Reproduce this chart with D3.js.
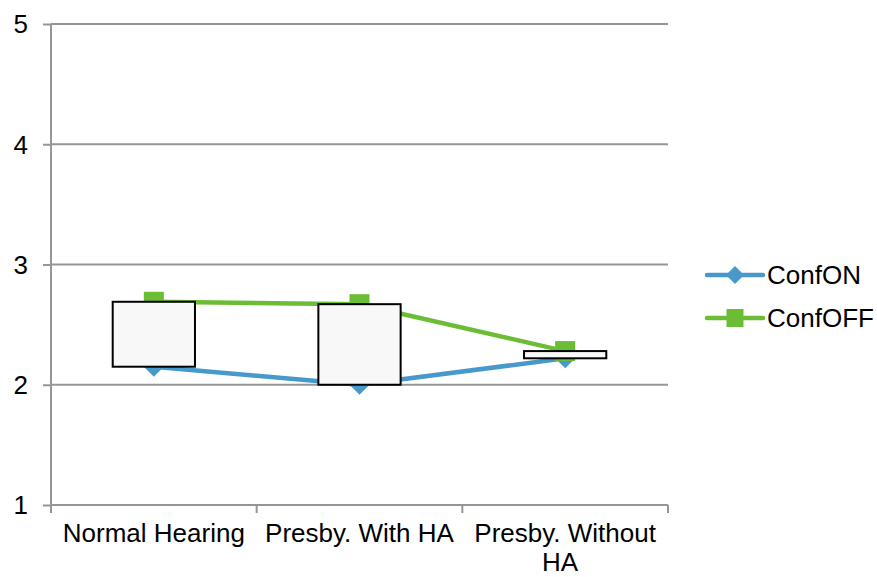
<!DOCTYPE html>
<html>
<head>
<meta charset="utf-8">
<script src="https://cdn.jsdelivr.net/npm/d3@7"></script>
<style>
  html, body { margin: 0; padding: 0; background: #fff; }
  text { font-family: "Liberation Sans", Arial, sans-serif; fill: #000; }
</style>
</head>
<body>
<svg id="chart" width="877" height="577"></svg>
<script>
// Chart data
const categories = ["Normal Hearing", "Presby. With HA", "Presby. Without HA"];
const confOn = [2.15, 2.00, 2.22];
const confOff = [2.69, 2.67, 2.28];
const yTicks = [1, 2, 3, 4, 5];
const seriesNames = ["ConfON", "ConfOFF"];

const svg = d3.select("#chart");
const plotLeft = 51, plotRight = 668, plotTop = 24, plotBottom = 505;
const fontSize = 26;
const blue = "#4798CB", green = "#6CBD36", grid = "#969696";

const x = d3.scaleBand().domain(categories).range([plotLeft, plotRight]).padding(0);
const y = d3.scaleLinear().domain([1, 5]).range([plotBottom, plotTop]);
const cx = d => x(d) + x.bandwidth() / 2;

// Horizontal gridlines with left tick marks
const yAxis = d3.axisLeft(y).tickValues(yTicks).tickSize(8).tickFormat(d3.format("d"));
const gy = svg.append("g").attr("transform", `translate(${plotLeft},0)`).call(yAxis);
gy.select(".domain").remove();
gy.selectAll(".tick line").attr("stroke", grid).attr("stroke-width", 2);
gy.selectAll(".tick text").attr("x", -23).attr("dy", "0.34em")
  .style("font-size", fontSize + "px").style("font-family", "Liberation Sans, Arial, sans-serif").attr("fill", "#000");
svg.append("g").selectAll("line").data(yTicks).join("line")
  .attr("x1", plotLeft).attr("x2", plotRight)
  .attr("y1", d => y(d)).attr("y2", d => y(d))
  .attr("stroke", grid).attr("stroke-width", 2);

// Vertical axis line
svg.append("line").attr("x1", plotLeft).attr("x2", plotLeft).attr("y1", plotTop).attr("y2", plotBottom + 8)
  .attr("stroke", grid).attr("stroke-width", 2);

// Category axis ticks at band boundaries
const bounds = categories.map(c => x(c)).concat([plotRight]);
svg.append("g").selectAll("line").data(bounds.slice(1)).join("line")
  .attr("x1", d => d).attr("x2", d => d).attr("y1", plotBottom).attr("y2", plotBottom + 8)
  .attr("stroke", grid).attr("stroke-width", 2);

// Category labels (wrapped to fit the band)
const labelLines = [["Normal Hearing"], ["Presby. With HA"], ["Presby. Without", "HA"]];
categories.forEach((c, i) => {
  const t = svg.append("text").attr("text-anchor", "middle")
    .attr("x", cx(c)).attr("y", 542).style("font-size", fontSize + "px");
  labelLines[i].forEach((line, j) => {
    t.append("tspan").attr("x", cx(c) - (j > 0 ? 5 : 0)).attr("dy", j === 0 ? 0 : 29).text(line);
  });
});

// Series lines
const line = d3.line().x(d => cx(d[0])).y(d => y(d[1]));
const onPts = categories.map((c, i) => [c, confOn[i]]);
const offPts = categories.map((c, i) => [c, confOff[i]]);
svg.append("path").attr("d", line(onPts)).attr("fill", "none")
  .attr("stroke", blue).attr("stroke-width", 4.5).attr("stroke-linejoin", "round");
svg.append("path").attr("d", line(offPts)).attr("fill", "none")
  .attr("stroke", green).attr("stroke-width", 4.5).attr("stroke-linejoin", "round");

// Markers
const diamond = (px, py, r) => `M${px},${py - r}L${px + r},${py}L${px},${py + r}L${px - r},${py}Z`;
svg.append("g").selectAll("path").data(onPts).join("path")
  .attr("d", d => diamond(cx(d[0]), y(d[1]), 10)).attr("fill", blue);
svg.append("g").selectAll("rect").data(offPts).join("rect")
  .attr("x", d => cx(d[0]) - 10).attr("y", d => y(d[1]) - 10)
  .attr("width", 20).attr("height", 20).attr("fill", green);

// Up/down bars between the two series
const barW = x.bandwidth() * 0.4;
svg.append("g").selectAll("rect").data(categories).join("rect")
  .attr("x", (c) => cx(c) - barW / 2)
  .attr("y", (c, i) => y(Math.max(confOn[i], confOff[i])))
  .attr("width", barW)
  .attr("height", (c, i) => Math.abs(y(confOn[i]) - y(confOff[i])))
  .attr("fill", "#F8F8F8").attr("stroke", "#000").attr("stroke-width", 2);

// Legend
const legendY = [275, 318];
const legendColors = [blue, green];
seriesNames.forEach((name, i) => {
  const g = svg.append("g");
  g.append("line").attr("x1", 707).attr("x2", 763).attr("y1", legendY[i]).attr("y2", legendY[i])
    .attr("stroke", legendColors[i]).attr("stroke-width", 4.5).attr("stroke-linecap", "round");
  if (i === 0) {
    g.append("path").attr("d", diamond(735, legendY[i], 9)).attr("fill", blue);
  } else {
    g.append("rect").attr("x", 726.5).attr("y", legendY[i] - 9).attr("width", 17).attr("height", 18).attr("fill", green);
  }
  g.append("text").attr("x", 767).attr("y", legendY[i]).attr("dy", "0.36em")
    .style("font-size", fontSize + "px").text(name);
});
</script>
</body>
</html>
